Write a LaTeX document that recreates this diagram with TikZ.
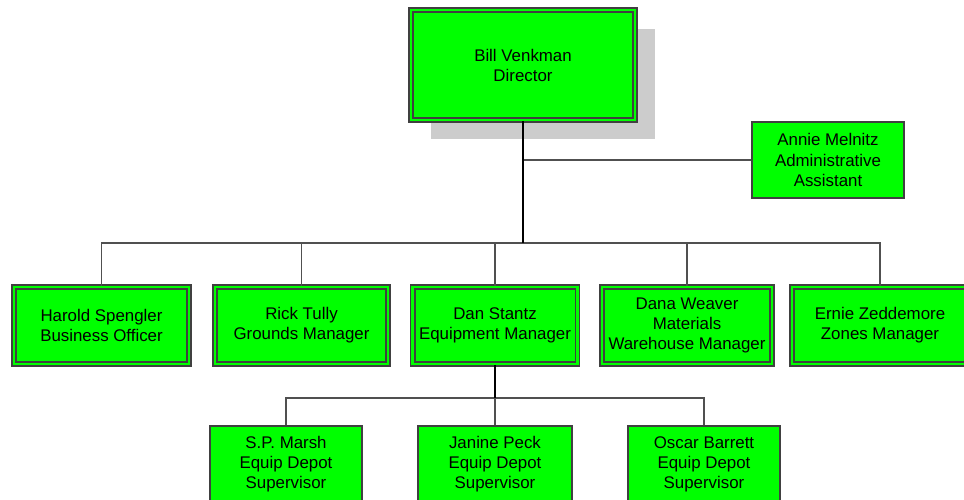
\documentclass[tikz,border=0pt]{standalone}
\usepackage{fontspec}
\setmainfont{Liberation Sans}
\usetikzlibrary{shadows}
\definecolor{orggreen}{HTML}{00FF00}
\definecolor{orgline}{HTML}{505050}
\definecolor{orgshadow}{HTML}{CCCCCC}
\newcommand\orgtextstyle{\fontsize{9.6}{11.4}\selectfont}
\tikzset{
  orgbox/.style={draw=black!75, fill=orggreen, line width=.9pt, align=center,
    inner sep=0pt, font=\orgtextstyle},
  orgdouble/.style={orgbox, double=orggreen, double distance=1.6pt},
  orgrow/.style={orgdouble, minimum height=1.54cm},
  orgsub/.style={orgbox, minimum width=3.04cm, minimum height=1.52cm},
  orglink/.style={draw=orgline, line width=.8pt},
  orgtrunk/.style={draw=black, line width=1.6pt},
}

\begin{document}
\begin{tikzpicture}[x=0.02cm, y=-0.02cm]
    \useasboundingbox (0,0) rectangle (964,500) ;
    \clip (0,0) rectangle (964,500) ;
    % director and assistant
    \node[orgdouble, minimum width=4.48cm, minimum height=2.2cm,
      drop shadow={shadow xshift=.4cm, shadow yshift=-.38cm, fill=orgshadow, opacity=1}]
      (venkman) at (523,65) {Bill Venkman\\Director} ;
    \node[orgbox, minimum width=3.04cm, minimum height=1.52cm]
      (melnitz) at (828,160) {Annie Melnitz\\Administrative\\Assistant} ;
    % managers
    \node[orgrow, minimum width=3.50cm] (spengler) at (101.5,325.5) {Harold Spengler\\Business Officer} ;
    \node[orgrow, minimum width=3.46cm] (tully) at (301.5,325.5) {Rick Tully\\Grounds Manager} ;
    \node[orgrow, minimum width=3.30cm] (stantz) at (495,325.5) {Dan Stantz\\Equipment Manager} ;
    \node[orgrow, minimum width=3.40cm] (weaver) at (687,325.5) {Dana Weaver\\Materials\\Warehouse Manager} ;
    \node[orgrow, minimum width=3.52cm] (zeddemore) at (880,325.5) {Ernie Zeddemore\\Zones Manager} ;
    % supervisors
    \node[orgsub] (marsh) at (286,464) {S.P. Marsh\\Equip Depot\\Supervisor} ;
    \node[orgsub, minimum width=3.08cm] (peck) at (495,464) {Janine Peck\\Equip Depot\\Supervisor} ;
    \node[orgsub] (barrett) at (704,464) {Oscar Barrett\\Equip Depot\\Supervisor} ;
    % connectors
    \coordinate (hub) at (523,243) ;
    \coordinate (subhub) at (495,398) ;
    \draw[orglink] (venkman.south |- melnitz.west) -- (melnitz.west) ;
    \draw[orglink] (spengler.north) |- (hub) -| (zeddemore.north) ;
    \foreach \mgr in {tully, stantz, weaver}
      \draw[orglink] (\mgr.north) -- (\mgr.north |- hub) ;
    \draw[orgtrunk] (venkman.south) -- (hub) ;
    \draw[orglink] (marsh.north) |- (subhub) -| (barrett.north) ;
    \draw[orglink] (peck.north) -- (subhub) ;
    \draw[orgtrunk] (stantz.south) -- (subhub) ;
  \end{tikzpicture}
\end{document}
